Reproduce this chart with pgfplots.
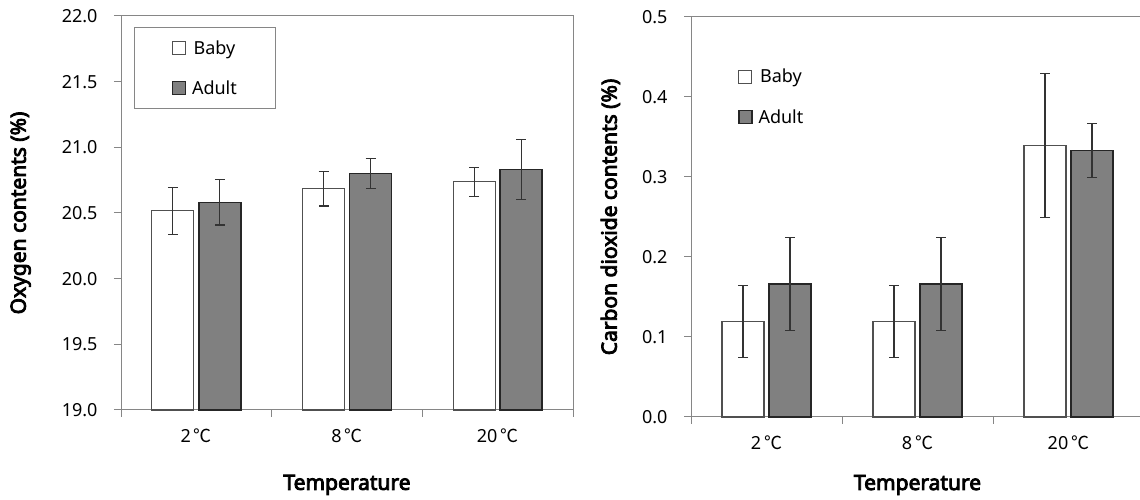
\documentclass[border=0pt]{standalone}
\usepackage{pgfplots}
\pgfplotsset{compat=1.18}
\usepackage{fontspec}
\setmainfont{Noto Sans}[AutoFakeBold=4]
\newfontfamily\cjk{Noto Sans CJK KR}
\definecolor{axgray}{HTML}{868686}
\definecolor{adultfill}{HTML}{808080}
\definecolor{adultedge}{HTML}{262626}
\definecolor{babyedge}{HTML}{505050}
\newcommand{\degC}{{\cjk ℃}}
\pgfplotsset{
  common/.style={
    scale only axis,
    xmin=-0.5, xmax=2.5,
    axis line style={axgray, line width=1pt},
    every tick/.style={axgray, line width=1pt},
    xtick={0,1,2},
    xticklabels={2\,\degC,8\,\degC,20\,\degC},
    major x tick style={draw=none},
    minor xtick={-0.5,0.5,1.5,2.5},
    minor tick length=7pt,
    major tick length=7pt,
    tick align=outside,
    xtick pos=bottom, ytick pos=left,
    ticklabel style={font=\fontsize{18}{20}\selectfont},
    xticklabel style={yshift=-8pt},
    yticklabel style={xshift=-13pt},
    /pgf/number format/assume math mode=true,
    /pgf/number format/fixed, /pgf/number format/fixed zerofill, /pgf/number format/precision=1,
    label style={font=\bfseries\fontsize{21}{24}\selectfont},
    xlabel={Temperature},
    legend style={font=\fontsize{18}{20}\selectfont, row sep=21pt, column sep=4pt,
      nodes={inner sep=2pt}},
    ybar, bar width=42pt,
    clip=false,
  },
  ebars/.style={error bars/.cd, y dir=both, y explicit,
    error bar style={black!80, line width=1.3pt},
    error mark options={rotate=90, mark size=5pt, black!80, line width=1.3pt}},
  babybar/.style={fill=white, draw=babyedge, line width=1.2pt, bar shift=-23.5pt,
    legend image code/.code={\draw[fill=white, draw=babyedge, line width=1.2pt] (0pt,-6.5pt) rectangle (13pt,6.5pt);}},
  adultbar/.style={fill=adultfill, draw=adultedge, line width=1.4pt, bar shift=23.5pt,
    legend image code/.code={\draw[fill=adultfill, draw=adultedge, line width=1.4pt] (0pt,-6.5pt) rectangle (13pt,6.5pt);}},
}
\begin{document}
\begin{tikzpicture}[x=1pt,y=1pt]
\useasboundingbox (0,0) rectangle (1140,500);
% Left panel
\begin{axis}[common,
  at={(121pt,90pt)}, anchor=south west,
  width=452pt, height=394pt,
  ymin=19, ymax=22, ytick={19,19.5,...,22},
  ylabel={Oxygen contents (\%)},
  ylabel style={at={(rel axis cs:-0.222,0.5)}, anchor=center},
  xlabel style={at={(rel axis cs:0.5,-0.190)}, anchor=center},
  legend style={at={(rel axis cs:0.029,0.972)}, anchor=north west,
    draw=axgray, line width=1pt, inner xsep=37pt, inner ysep=11pt},
]
\addplot[babybar, ebars] coordinates {(0,20.517) +- (0,0.179) (1,20.685) +- (0,0.131) (2,20.738) +- (0,0.111)};
\addplot[adultbar, ebars] coordinates {(0,20.581) +- (0,0.173) (1,20.800) +- (0,0.116) (2,20.832) +- (0,0.227)};
\legend{Baby,Adult}
\end{axis}
% Right panel
\begin{axis}[common,
  at={(691pt,83pt)}, anchor=south west,
  width=453pt, height=400pt,
  ymin=0, ymax=0.5, ytick={0,0.1,...,0.5},
  ylabel={Carbon dioxide contents (\%)},
  ylabel style={at={(rel axis cs:-0.178,0.5)}, anchor=center},
  xlabel style={at={(rel axis cs:0.5,-0.170)}, anchor=center},
  legend style={at={(rel axis cs:0.097,0.88)}, anchor=north west,
    draw=none, fill=none},
]
\addplot[babybar, ebars] coordinates {(0,0.119) +- (0,0.045) (1,0.119) +- (0,0.045) (2,0.339) +- (0,0.090)};
\addplot[adultbar, ebars] coordinates {(0,0.166) +- (0,0.058) (1,0.166) +- (0,0.058) (2,0.333) +- (0,0.034)};
\legend{Baby,Adult}
\end{axis}
\end{tikzpicture}
\end{document}
